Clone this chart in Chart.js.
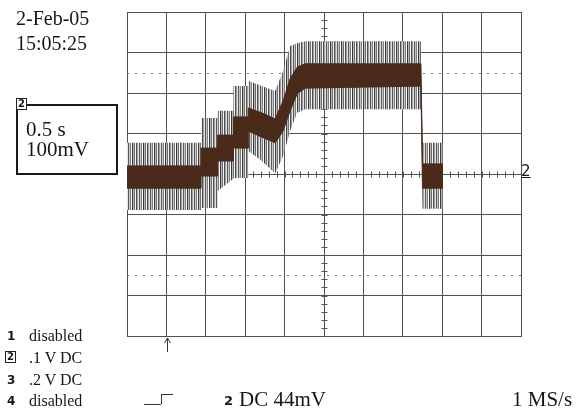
<!DOCTYPE html>
<html>
<head>
<meta charset="utf-8">
<script src="https://cdn.jsdelivr.net/npm/chart.js@4/dist/chart.umd.min.js"></script>
<style>
    body { margin: 0; background: #fff; }
    #wrap { position: relative; width: 582px; height: 410px; font-family: "Liberation Serif", "Times New Roman", serif; color: #161616; overflow: hidden; }
    #scope { position: absolute; left: 0; top: 0; }
    .lbl { position: absolute; white-space: nowrap; line-height: 1; }
    .num { position: absolute; font-family: "DejaVu Sans", sans-serif; font-weight: bold; font-size: 12px; line-height: 1; }
    .boxed { border: 1px solid #222; padding: 0 1px; background: #fff; font-size: 10px; }
    #setBox { position: absolute; left: 16px; top: 104px; width: 98px; height: 67px; border: 2px solid #1a1a1a; }
</style>
</head>
<body>
<div id="wrap">
    <canvas id="scope" width="582" height="410"></canvas>

    <div class="lbl" style="left:16px; top:8px; font-size:20px;">2-Feb-05</div>
    <div class="lbl" style="left:16px; top:33px; font-size:20px;">15:05:25</div>

    <div id="setBox"></div>
    <div class="num boxed" style="left:16px; top:98px;">2</div>
    <div class="lbl" style="left:26px; top:119px; font-size:21px;">0.5 s</div>
    <div class="lbl" style="left:26px; top:139px; font-size:21px;">100mV</div>

    <div class="lbl" style="left:521px; top:164px; font-size:15px; font-family:'DejaVu Sans',sans-serif; text-decoration:underline;">2</div>

    <div class="num" style="left:7px; top:330px;">1</div>
    <div class="lbl" style="left:29px; top:328px; font-size:16px;">disabled</div>
    <div class="num boxed" style="left:5px; top:351px;">2</div>
    <div class="lbl" style="left:29px; top:350px; font-size:16px;">.1 V DC</div>
    <div class="num" style="left:7px; top:374px;">3</div>
    <div class="lbl" style="left:29px; top:372px; font-size:16px;">.2 V DC</div>
    <div class="num" style="left:7px; top:395px;">4</div>
    <div class="lbl" style="left:29px; top:393px; font-size:16px;">disabled</div>

    <!-- trigger slope symbol -->
    <div style="position:absolute; left:144px; top:404px; width:17px; height:0; border-top:1px solid #333;"></div>
    <div style="position:absolute; left:161px; top:394px; width:0; height:10px; border-left:1px solid #333;"></div>
    <div style="position:absolute; left:161px; top:394px; width:12px; height:0; border-top:1px solid #333;"></div>

    <div class="num" style="left:224px; top:394px; font-size:13px;">2</div>
    <div class="lbl" style="left:239px; top:389px; font-size:21px;">DC 44mV</div>
    <div class="lbl" style="left:512px; top:389px; font-size:21px;">1 MS/s</div>
</div>

<script>
// time axis 0..5 s (0.5 s/div), volts in mV (100 mV/div)
const tSec   = [0, 0.94, 0.94, 1.15, 1.15, 1.35, 1.35, 1.54, 1.54, 1.71, 1.88, 1.98, 2.07, 2.16, 2.26, 3.73, 3.75, 4.01];
// dense dark part of the trace
const bandHi = [20, 20, 64, 64, 96, 96, 141, 141, 163, 151, 136, 180, 235, 264, 272, 272, 25, 25];
const bandLo = [-35, -35, -5, -5, 32, 32, 64, 64, 106, 91, 77, 106, 156, 198, 212, 217, -35, -35];
// spiky noise envelope
const envHi  = [77, 77, 138, 138, 156, 156, 217, 217, 230, 217, 205, 254, 316, 323, 328, 328, 77, 77];
const envLo  = [-89, -89, -84, -84, -42, -12, -10, -10, 57, 32, 2, 44, 106, 151, 160, 160, -86, -86];

const xTicks = [0, 0.5, 1, 1.5, 2, 2.5, 3, 3.5, 4, 4.5, 5];
const yTicks = [-400, -300, -200, -100, 0, 100, 200, 300, 400];
const cursorLevels = [250, -250];
const triggerT = 0.51;

const pts = arr => arr.map((v, i) => ({ x: tSec[i], y: v }));

// vertical stripes for the noise spikes
function stripePattern() {
    const c = document.createElement('canvas');
    const cols = ['#3a3a3a', '#b8b8b8', '#6e6e6e', '#f4f4f4', '#4e4e4e', '#a0a0a0', '#e2e2e2', '#5a5a5a', '#c4c4c4', '#808080', '#fafafa'];
    c.width = cols.length; c.height = 1;
    const g = c.getContext('2d');
    cols.forEach((col, i) => { g.fillStyle = col; g.fillRect(i, 0, 1, 1); });
    return g.createPattern(c, 'repeat');
}

const gridColor = '#505050';

// center graticule ticks, dotted cursors and trigger arrow
const scopeDecor = {
    id: 'scopeDecor',
    beforeDatasetsDraw(chart) {
        const { ctx, chartArea: a, scales: { x, y } } = chart;
        ctx.save();
        ctx.strokeStyle = '#777';
        ctx.lineWidth = 1;
        ctx.setLineDash([2, 6]);
        cursorLevels.forEach(v => {
            const py = Math.round(y.getPixelForValue(v)) + 0.5;
            ctx.beginPath(); ctx.moveTo(a.left, py); ctx.lineTo(a.right, py); ctx.stroke();
        });
        ctx.setLineDash([]);
        ctx.strokeStyle = gridColor;
        const cy = Math.round(y.getPixelForValue(0)) + 0.5;
        const cx = Math.round(x.getPixelForValue(2.5)) + 0.5;
        ctx.beginPath();
        for (let i = 0; i <= 50; i++) {
            const px = Math.round(x.getPixelForValue(i * 0.1)) + 0.5;
            ctx.moveTo(px, cy - 3); ctx.lineTo(px, cy + 3);
        }
        for (let i = 0; i <= 40; i++) {
            const py = Math.round(y.getPixelForValue(-400 + i * 20)) + 0.5;
            ctx.moveTo(cx - 3, py); ctx.lineTo(cx + 3, py);
        }
        ctx.stroke();
        ctx.restore();
    },
    afterDraw(chart) {
        const { ctx, chartArea: a, scales: { x } } = chart;
        const px = Math.round(x.getPixelForValue(triggerT)) + 0.5;
        ctx.save();
        ctx.strokeStyle = '#333';
        ctx.lineWidth = 1;
        ctx.beginPath();
        ctx.moveTo(px, a.bottom + 16); ctx.lineTo(px, a.bottom + 2);
        ctx.moveTo(px - 3, a.bottom + 7); ctx.lineTo(px, a.bottom + 2); ctx.lineTo(px + 3, a.bottom + 7);
        ctx.stroke();
        ctx.restore();
    }
};

const band = '#4a2a1b';
const stripes = stripePattern();

new Chart(document.getElementById('scope'), {
    type: 'line',
    data: {
        datasets: [
            { data: pts(bandHi), borderColor: band, borderWidth: 1, fill: false, order: 1 },
            { data: pts(bandLo), borderColor: band, borderWidth: 1, backgroundColor: band, fill: '-1', order: 1 },
            { data: pts(envHi), borderColor: 'rgba(0,0,0,0)', borderWidth: 0, fill: false, order: 2 },
            { data: pts(envLo), borderColor: 'rgba(0,0,0,0)', borderWidth: 0, backgroundColor: stripes, fill: '-1', order: 2 }
        ]
    },
    options: {
        responsive: false,
        animation: false,
        devicePixelRatio: 1,
        layout: { padding: { left: 127, top: 12, right: 61, bottom: 74 } },
        elements: { point: { radius: 0 }, line: { tension: 0 } },
        plugins: { legend: { display: false }, tooltip: { enabled: false } },
        scales: {
            x: {
                type: 'linear', min: 0, max: 5,
                afterBuildTicks: s => { s.ticks = xTicks.map(v => ({ value: v })); },
                ticks: { display: false },
                grid: { color: gridColor, lineWidth: 1, drawTicks: false },
                border: { color: gridColor }
            },
            y: {
                type: 'linear', min: -400, max: 400,
                afterBuildTicks: s => { s.ticks = yTicks.map(v => ({ value: v })); },
                ticks: { display: false },
                grid: { color: gridColor, lineWidth: 1, drawTicks: false },
                border: { color: gridColor }
            }
        }
    },
    plugins: [scopeDecor]
});
</script>
</body>
</html>
